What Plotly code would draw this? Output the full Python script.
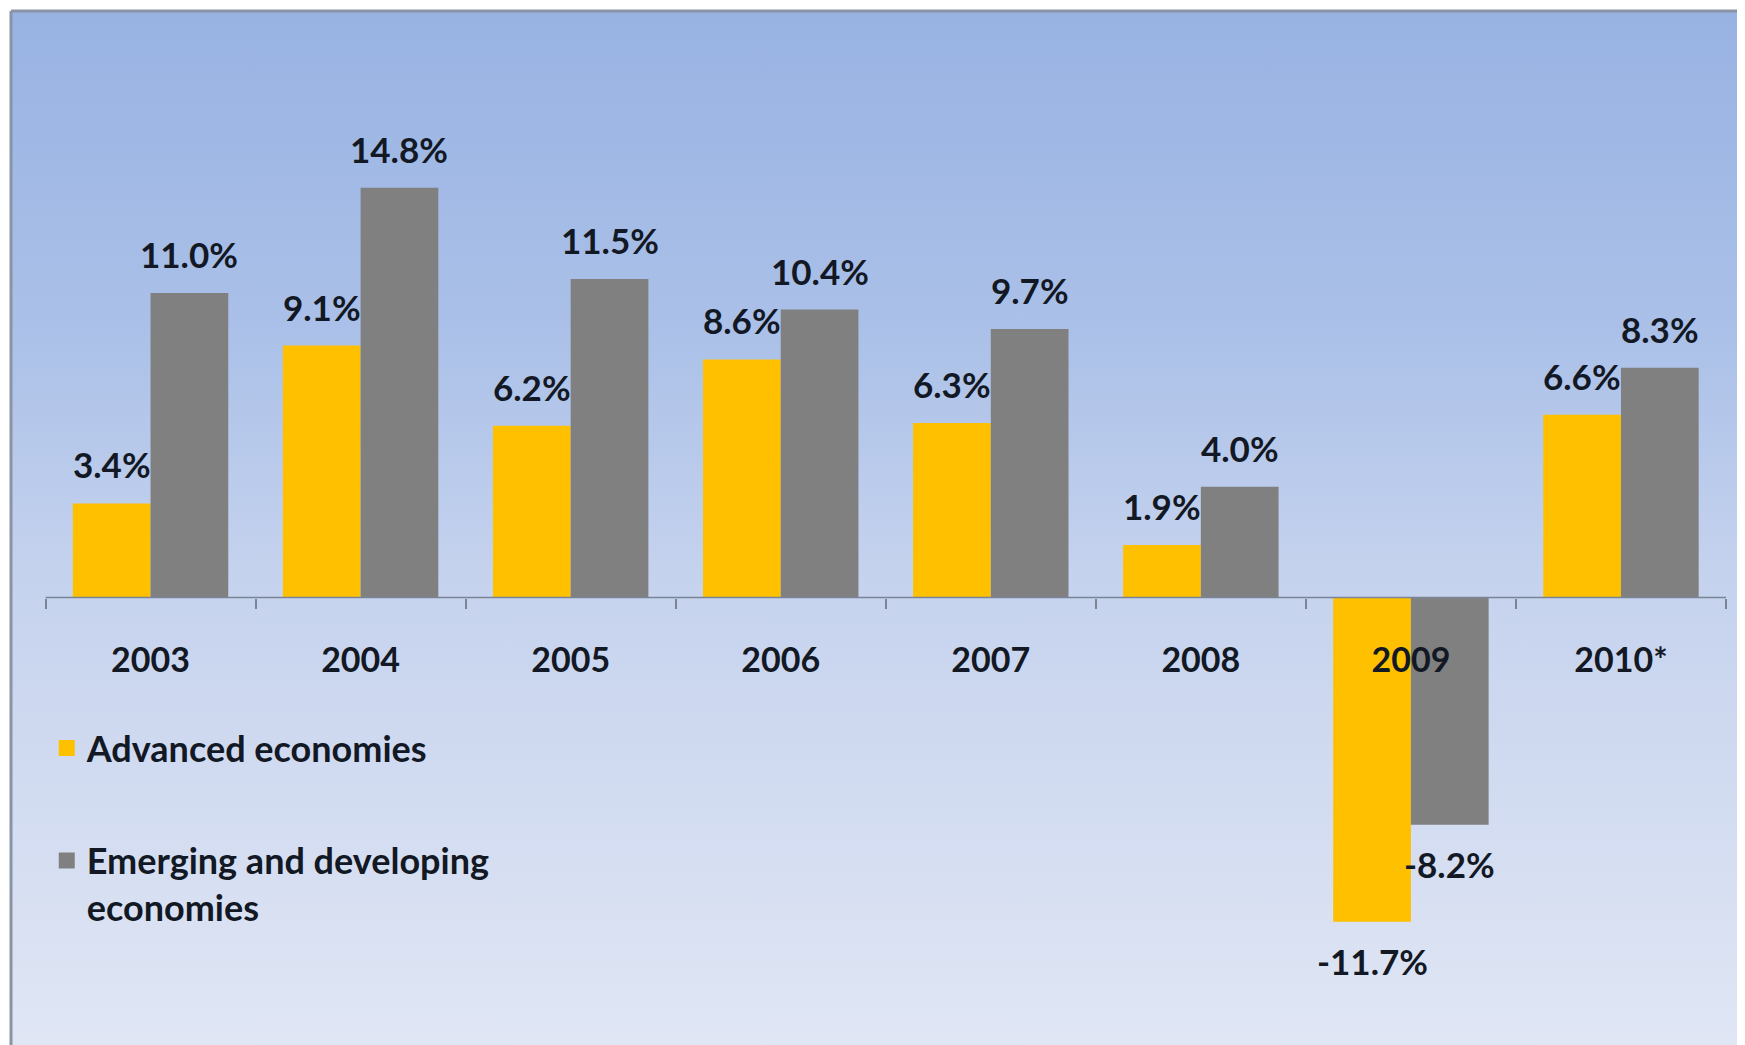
import base64
import plotly.graph_objects as go

years = ["2003", "2004", "2005", "2006", "2007", "2008", "2009", "2010*"]
advanced = [3.4, 9.1, 6.2, 8.6, 6.3, 1.9, -11.7, 6.6]
emerging = [11.0, 14.8, 11.5, 10.4, 9.7, 4.0, -8.2, 8.3]
series_names = ["Advanced economies", "Emerging and developing<br>economies"]
series_colors = ["#FFC000", "#808080"]

W, H = 1745, 1045
OFF = 8  # default page body margin
FONT = "Lato"
TXT = "#121824"

svg = (
    '<svg xmlns="http://www.w3.org/2000/svg" width="100" height="100" preserveAspectRatio="none">'
    '<defs><linearGradient id="g" x1="0" y1="0" x2="0" y2="1">'
    '<stop offset="0" stop-color="#98B2E2"/>'
    '<stop offset="0.3" stop-color="#AAC0E8"/>'
    '<stop offset="0.55" stop-color="#C6D3EE"/>'
    '<stop offset="1" stop-color="#E0E6F4"/>'
    '</linearGradient></defs>'
    '<rect x="0" y="0" width="100" height="100" fill="url(#g)"/></svg>'
)
img_src = "data:image/svg+xml;base64," + base64.b64encode(svg.encode()).decode()

# axis geometry (figure pixels)
x_left_px, x_right_px = 45.5 - OFF, 1726.0 - OFF
unit = (x_right_px - x_left_px) / len(years)
xr = [-0.5 - x_left_px / unit, len(years) - 0.5 + (W - x_right_px) / unit]
zero_px = 597.6 - OFF
ppu = 27.7
yr = [-(H - zero_px) / ppu, zero_px / ppu]
pos0 = -yr[0] / (yr[1] - yr[0])

fig = go.Figure()
for name, vals, col, og in [
    (series_names[0], advanced, series_colors[0], "a"),
    (series_names[1], emerging, series_colors[1], "b"),
]:
    fig.add_trace(go.Bar(x=years, y=vals, marker=dict(color=col, line=dict(width=0)),
                         offsetgroup=og, showlegend=False, hoverinfo="skip"))

# legend entries
fig.add_trace(go.Scatter(x=[None], y=[None], mode="markers", name=series_names[0],
                         marker=dict(symbol="square", size=19, color=series_colors[0]),
                         legend="legend"))
fig.add_trace(go.Scatter(x=[None], y=[None], mode="markers", name=series_names[1],
                         marker=dict(symbol="square", size=19, color=series_colors[1]),
                         legend="legend2"))

bar_half_px = unit * (1 - 0.26) / 4
annotations = []
for vals, sgn in [(advanced, -1), (emerging, 1)]:
    for i, v in enumerate(vals):
        annotations.append(dict(
            x=i, y=v, xref="x", yref="y", text=f"{v:.1f}%", showarrow=False,
            xshift=sgn * bar_half_px, yshift=39 if v >= 0 else -39,
            font=dict(family=FONT, size=35, color=TXT, weight="bold"),
            xanchor="center", yanchor="middle"))

bx0, by0 = 11 - OFF, 11 - OFF
fig.update_layout(
    width=W, height=H,
    margin=dict(l=0, r=0, t=0, b=0),
    paper_bgcolor="white", plot_bgcolor="rgba(0,0,0,0)",
    barmode="group", bargap=0.26, bargroupgap=0,
    font=dict(family=FONT, color=TXT),
    annotations=annotations,
    images=[dict(source=img_src, xref="paper", yref="paper", x=bx0 / W, y=1 - by0 / H,
                 sizex=(1740 - OFF - bx0) / W, sizey=(H - by0) / H, sizing="stretch",
                 xanchor="left", yanchor="top", layer="below")],
    shapes=[
        dict(type="line", xref="paper", yref="paper", x0=bx0 / W, x1=bx0 / W, y0=0, y1=1 - by0 / H,
             line=dict(color="#8A94A6", width=3)),
        dict(type="line", xref="paper", yref="paper", x0=bx0 / W, x1=(1740 - OFF) / W,
             y0=1 - by0 / H, y1=1 - by0 / H, line=dict(color="#8A94A6", width=3)),
        dict(type="line", xref="x", yref="y", x0=-0.5, x1=len(years) - 0.5, y0=0, y1=0,
             line=dict(color="#7A8496", width=1.5), layer="above"),
    ],
    xaxis=dict(range=xr, anchor="free", position=pos0, showgrid=False, showline=False,
               zeroline=False, tickson="boundaries", ticks="outside", ticklen=10,
               tickwidth=1.5, tickcolor="#7A8496", ticklabelstandoff=39,
               tickfont=dict(family=FONT, size=34, color=TXT, weight="bold")),
    yaxis=dict(range=yr, visible=False, showgrid=False, zeroline=False),
    legend=dict(x=0.0222, y=1 - 740 / H, xanchor="left", yanchor="middle",
                bgcolor="rgba(0,0,0,0)", itemsizing="trace",
                font=dict(family=FONT, size=36, color=TXT, weight="bold")),
    legend2=dict(x=0.0222, y=1 - 876 / H, xanchor="left", yanchor="middle",
                 bgcolor="rgba(0,0,0,0)", itemsizing="trace", valign="top",
                 font=dict(family=FONT, size=36, color=TXT, weight="bold")),
)

fig.write_html("out.html")
